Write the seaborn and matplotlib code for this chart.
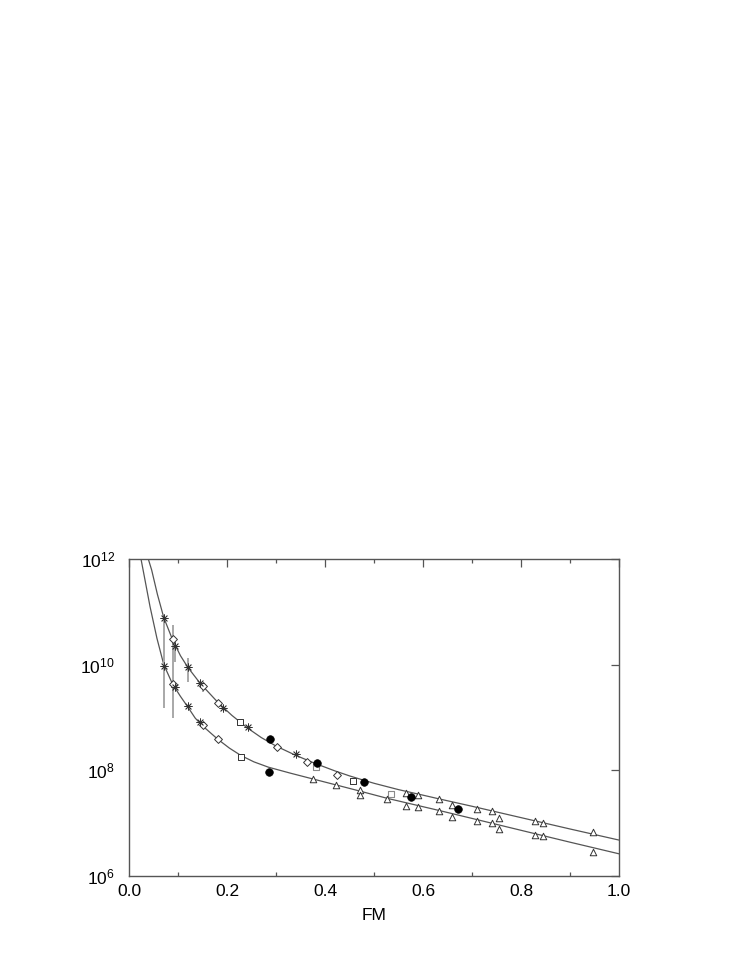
import numpy as np
import pandas as pd
import matplotlib
matplotlib.use("Agg")
import matplotlib.pyplot as plt
import seaborn as sns
from matplotlib.ticker import MultipleLocator, NullLocator, FixedLocator

# ---------------- data (y values as log10) ----------------
upper_curve_x = [0.0394, 0.0463, 0.058, 0.071, 0.089, 0.105, 0.12, 0.145, 0.182, 0.21,
                 0.242, 0.27, 0.30, 0.34, 0.38, 0.40, 0.42, 0.45, 0.48, 0.50, 0.55,
                 0.60, 0.635, 0.70, 0.80, 0.90, 1.00]
upper_curve_logy = [12.0, 11.79, 11.33, 10.89, 10.47, 10.17, 9.95, 9.65, 9.28, 9.04,
                    8.80, 8.62, 8.46, 8.285, 8.13, 8.06, 7.99, 7.895, 7.81, 7.755, 7.635,
                    7.53, 7.455, 7.32, 7.105, 6.89, 6.68]

lower_curve_x = [0.0245, 0.0327, 0.0429, 0.057, 0.071, 0.089, 0.105, 0.12, 0.135, 0.148,
                 0.165, 0.181, 0.205, 0.2286, 0.255, 0.2844, 0.33, 0.376, 0.42, 0.47,
                 0.527, 0.58, 0.633, 0.70, 0.80, 0.90, 1.00]
lower_curve_logy = [12.0, 11.60, 11.10, 10.50, 10.00, 9.63, 9.40, 9.20, 8.99, 8.86,
                    8.72, 8.59, 8.42, 8.28, 8.16, 8.06, 7.945, 7.835, 7.73, 7.61,
                    7.47, 7.355, 7.24, 7.09, 6.865, 6.64, 6.42]

asterisk_x = [0.071, 0.0945, 0.1197, 0.145, 0.1925, 0.242, 0.340,
              0.071, 0.0945, 0.1197, 0.145]
asterisk_logy = [10.89, 10.35, 9.96, 9.65, 9.18, 8.82, 8.30,
                 9.98, 9.58, 9.22, 8.92]

diamond_x = [0.089, 0.150, 0.1816, 0.303, 0.364, 0.425, 0.089, 0.150, 0.1816]
diamond_logy = [10.48, 9.60, 9.28, 8.44, 8.16, 7.91, 9.63, 8.86, 8.59]

square_x = [0.2275, 0.458, 0.2286]
square_logy = [8.92, 7.80, 8.25]

gray_square_x = [0.3816, 0.534]
gray_square_logy = [8.07, 7.56]

circle_x = [0.2878, 0.383, 0.4796, 0.575, 0.672, 0.2857]
circle_logy = [8.59, 8.13, 7.78, 7.50, 7.26, 7.97]

triangle_x = [0.565, 0.590, 0.633, 0.660, 0.7095, 0.740, 0.756, 0.8286, 0.8456, 0.946,
              0.376, 0.4224, 0.471, 0.471, 0.527, 0.565, 0.590, 0.633, 0.660, 0.7095,
              0.740, 0.756, 0.8286, 0.8456, 0.946]
triangle_logy = [7.575, 7.54, 7.46, 7.34, 7.27, 7.23, 7.10, 7.04, 7.01, 6.83,
                 7.83, 7.73, 7.63, 7.53, 7.45, 7.32, 7.31, 7.23, 7.11, 7.045,
                 7.00, 6.89, 6.77, 6.76, 6.46]

errbar_x = [0.071, 0.0905, 0.0945, 0.1197, 0.150]
errbar_low_logy = [9.18, 8.99, 10.05, 9.68, 9.49]
errbar_high_logy = [10.88, 10.75, 10.37, 10.12, 9.58]

x_ticks = [0.0, 0.2, 0.4, 0.6, 0.8, 1.0]
x_tick_labels = ["0.0", "0.2", "0.4", "0.6", "0.8", "1.0"]
y_ticks = [1e6, 1e8, 1e10, 1e12]
y_tick_labels = [r"$10^{6}$", r"$10^{8}$", r"$10^{10}$", r"$10^{12}$"]
x_label = "FM"

# ---------------- style ----------------
sns.set_theme(style="white")
plt.rcParams['font.family'] = ['Liberation Sans', 'DejaVu Sans']
plt.rcParams['mathtext.fontset'] = 'custom'
plt.rcParams['mathtext.rm'] = 'Liberation Sans'
plt.rcParams['mathtext.it'] = 'Liberation Sans'

def p(v):
    return 10.0 ** np.asarray(v, dtype=float)

fig = plt.figure(figsize=(7.47, 9.67), dpi=100)
ax = fig.add_axes([129 / 747, 91 / 967, 490 / 747, 317 / 967])
ax.set_yscale("log")

line_col = "#555555"
sns.lineplot(x=upper_curve_x, y=p(upper_curve_logy), ax=ax, color=line_col,
             linewidth=0.9, sort=False, estimator=None)
sns.lineplot(x=lower_curve_x, y=p(lower_curve_logy), ax=ax, color=line_col,
             linewidth=0.9, sort=False, estimator=None)

ax.vlines(errbar_x, p(errbar_low_logy), p(errbar_high_logy), colors="#a8a8a8",
          linewidth=1.4, zorder=2)

sns.scatterplot(x=gray_square_x, y=p(gray_square_logy), ax=ax, marker="s", s=18,
                color="white", edgecolor="#8a8a8a", linewidth=0.8, zorder=3)
sns.scatterplot(x=triangle_x, y=p(triangle_logy), ax=ax, marker="^", s=22,
                color="white", edgecolor="#333333", linewidth=0.7, zorder=3)
sns.scatterplot(x=square_x, y=p(square_logy), ax=ax, marker="s", s=18,
                color="white", edgecolor="#333333", linewidth=0.7, zorder=3)
sns.scatterplot(x=diamond_x, y=p(diamond_logy), ax=ax, marker="D", s=16,
                color="white", edgecolor="#333333", linewidth=0.7, zorder=3)
sns.scatterplot(x=asterisk_x, y=p(asterisk_logy), ax=ax, marker=(8, 2, 0), s=28,
                color="#333333", edgecolor="#333333", linewidth=0.6, zorder=4)
sns.scatterplot(x=circle_x, y=p(circle_logy), ax=ax, marker="o", s=30,
                color="black", edgecolor="black", linewidth=0.5, zorder=4)

ax.set_xlim(0.0, 1.0)
ax.set_ylim(1e6, 1e12)
ax.set_xticks(x_ticks)
ax.set_xticklabels(x_tick_labels)
ax.xaxis.set_minor_locator(MultipleLocator(0.1))
ax.yaxis.set_major_locator(FixedLocator(y_ticks))
ax.set_yticklabels(y_tick_labels)
ax.yaxis.set_minor_locator(NullLocator())

spine_col = "#555555"
for s in ax.spines.values():
    s.set_color(spine_col)
    s.set_linewidth(1.0)
ax.tick_params(axis="both", which="major", direction="in", length=6, width=0.9,
               color=spine_col, top=True, right=True, labelsize=12.5, pad=6,
               labelcolor="black")
ax.tick_params(axis="x", which="minor", direction="in", length=3, width=0.9,
               color=spine_col, top=True, bottom=True)
ax.tick_params(axis="y", which="major", pad=10)
ax.set_xlabel(x_label, fontsize=12.5, labelpad=6, color="black")
ax.set_ylabel("")
ax.grid(False)
if ax.get_legend() is not None:
    ax.get_legend().remove()

fig.savefig("out.png", dpi=100, facecolor="white")
